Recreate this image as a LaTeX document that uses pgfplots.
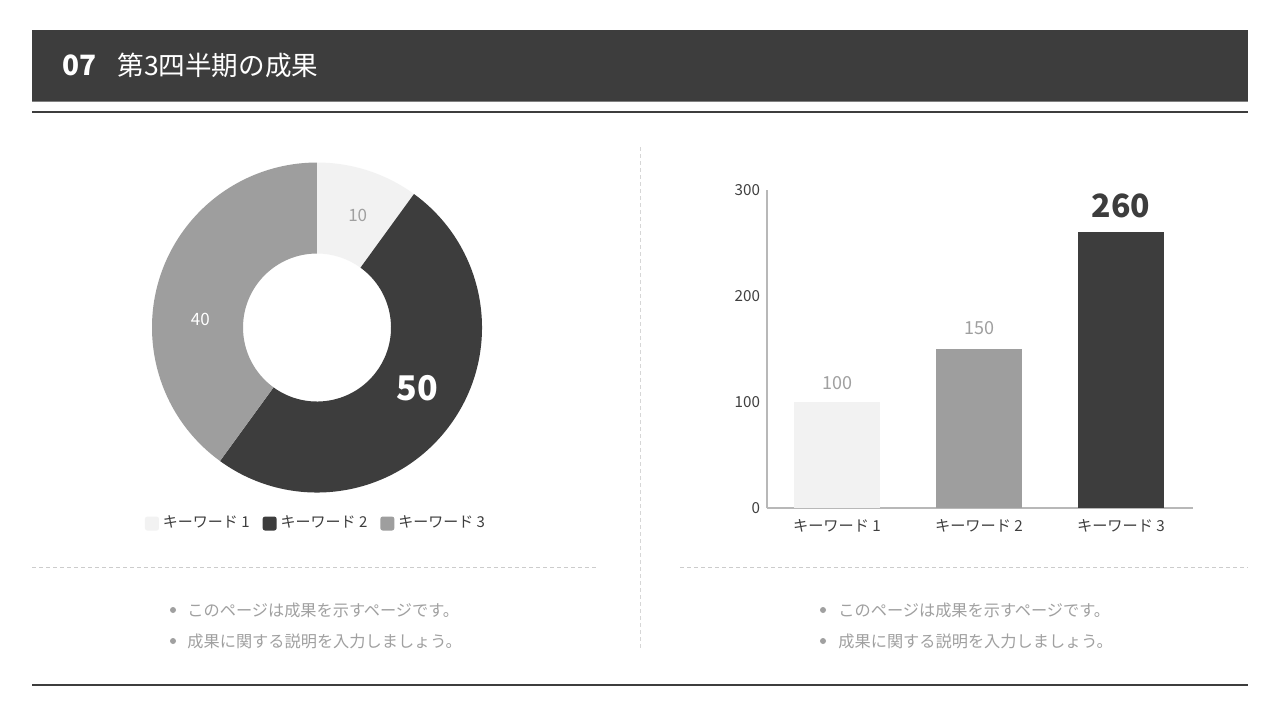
\documentclass[border=0pt]{standalone}
\usepackage{fontspec}
\setmainfont{Noto Sans CJK JP}
\usepackage{pgfplots}
\pgfplotsset{compat=1.18}
\usepackage{pgfplotstable}

\definecolor{dark}{HTML}{3D3D3D}
\definecolor{mid}{HTML}{9E9E9E}
\definecolor{light}{HTML}{F2F2F2}
\definecolor{txtgray}{HTML}{A0A0A0}
\definecolor{rulegray}{HTML}{CCCCCC}
\definecolor{axisgray}{HTML}{B8B8B8}
\definecolor{ticktext}{HTML}{404040}

% donut values (keyword 1..3)
\pgfplotstableread{
key value
1 10
2 50
3 40
}\donutdata

\begin{document}
% 1 unit = 1 px of the 1280x720 slide, y running downwards
\begin{tikzpicture}[x=0.5pt, y=-0.5pt]
% angles of the donut slices, clockwise from the top
\pgfplotstablegetelem{0}{value}\of\donutdata \let\vA\pgfplotsretval
\pgfplotstablegetelem{1}{value}\of\donutdata \let\vB\pgfplotsretval
\pgfplotstablegetelem{2}{value}\of\donutdata \let\vC\pgfplotsretval
\pgfmathsetmacro\tot{\vA+\vB+\vC}
\pgfmathsetmacro\aA{90}
\pgfmathsetmacro\aB{\aA-360*(\vA/\tot)}
\pgfmathsetmacro\aC{\aB-360*(\vB/\tot)}
\pgfmathsetmacro\aD{\aC-360*(\vC/\tot)}

% page and header
\fill[white] (0,0) rectangle (1280,720);
\fill[dark] (32,30) rectangle (1248,101);
\draw[gray, line width=0.5pt] (32,101.5) -- (1248,101.5);
\draw[dark, line width=1pt] (32,111.5) -- (1248,111.5);
\draw[dark, line width=1pt] (32,685) -- (1248,685);
\node[anchor=base west, inner sep=0, text=white, font=\fontsize{14}{16}\selectfont\bfseries] at (62,75) {07};
\node[anchor=base west, inner sep=0, text=white, font=\fontsize{13.3}{16}\selectfont] at (117,75) {第3四半期の成果};

% separators
\draw[rulegray!80, line width=0.5pt, dash pattern=on 2pt off 1.5pt] (640,147) -- (640,650);
\draw[rulegray, line width=0.5pt, dash pattern=on 2pt off 1.5pt] (32,567) -- (598,567);
\draw[rulegray, line width=0.5pt, dash pattern=on 2pt off 1.5pt] (680,567) -- (1248,567);

% donut chart, centre at px (317,327.5)
\begin{axis}[
    at={(158.5pt,-163.75pt)}, anchor=center,
    scale only axis, width=165pt, height=165pt,
    xmin=-1, xmax=1, ymin=-1, ymax=1,
    hide axis, clip=false,
    legend columns=3,
    legend style={at={(0.5,-0.094)}, anchor=center, draw=none, fill=none,
        font=\fontsize{7.5}{9}\selectfont, text=dark,
        /tikz/every even column/.append style={column sep=4.5pt}},
    legend image code/.code={\fill[#1, rounded corners=1.2pt] (0pt,-3.5pt) rectangle (7pt,3.5pt);},
]
\addlegendimage{fill=light, draw=none}
\addlegendentry{キーワード 1}
\addlegendimage{fill=dark, draw=none}
\addlegendentry{キーワード 2}
\addlegendimage{fill=mid, draw=none}
\addlegendentry{キーワード 3}
\begin{scope}[shift={(axis cs:0,0)}]
\fill[light] (\aA:82.5pt) arc[start angle=\aA, end angle=\aB, radius=82.5pt] -- (\aB:37pt) arc[start angle=\aB, end angle=\aA, radius=37pt] -- cycle;
\fill[dark] (\aB:82.5pt) arc[start angle=\aB, end angle=\aC, radius=82.5pt] -- (\aC:37pt) arc[start angle=\aC, end angle=\aB, radius=37pt] -- cycle;
\fill[mid] (\aC:82.5pt) arc[start angle=\aC, end angle=\aD, radius=82.5pt] -- (\aD:37pt) arc[start angle=\aD, end angle=\aC, radius=37pt] -- cycle;
\node[text=txtgray, font=\fontsize{8.5}{10}\selectfont] at (70:59.5pt) {\vA};
\node[text=white, font=\fontsize{17}{20}\selectfont\bfseries] at (-31:58.5pt) {\vB};
\node[text=white, font=\fontsize{8.5}{10}\selectfont] at (176:58.5pt) {\vC};
\end{scope}
\end{axis}

% bar chart, origin at px (767,508)
\begin{axis}[
    at={(383.5pt,-254pt)}, anchor=south west,
    scale only axis, width=213pt, height=159pt,
    xmin=-0.493, xmax=2.507, ymin=0, ymax=300,
    axis x line*=bottom, axis y line*=left,
    axis line style={-, draw=axisgray, line width=0.9pt},
    xtick={0,1,2},
    xticklabels={キーワード 1, キーワード 2, キーワード 3},
    ytick={0,100,200,300},
    major tick length=0pt,
    tick label style={font=\fontsize{7.6}{9}\selectfont, text=ticktext},
    xticklabel style={yshift=-2pt},
    /pgf/number format/assume math mode=true,
    clip=false,
]
\addplot[ybar, bar shift=0pt, bar width=43pt, fill=light, draw=none,
    nodes near coords, nodes near coords style={font=\fontsize{9}{10}\selectfont, text=txtgray, anchor=south, yshift=2.5pt}]
    coordinates {(0,100)};
\addplot[ybar, bar shift=0pt, bar width=43pt, fill=mid, draw=none,
    nodes near coords, nodes near coords style={font=\fontsize{9}{10}\selectfont, text=txtgray, anchor=south, yshift=3.5pt}]
    coordinates {(1,150)};
\addplot[ybar, bar shift=0pt, bar width=43pt, fill=dark, draw=none,
    nodes near coords, nodes near coords style={font=\fontsize{16}{18}\selectfont\bfseries, text=dark, anchor=south, yshift=3.5pt}]
    coordinates {(2,260)};
\end{axis}

% notes
\foreach \xb/\xt in {173/187, 823/838} {
  \fill[txtgray] (\xb,610) circle[radius=1.5pt];
  \fill[txtgray] (\xb,641) circle[radius=1.5pt];
  \node[anchor=west, inner sep=0, text=txtgray, font=\fontsize{8.1}{9}\selectfont] at (\xt,610) {このページは成果を示すページです。};
  \node[anchor=west, inner sep=0, text=txtgray, font=\fontsize{8.1}{9}\selectfont] at (\xt,641) {成果に関する説明を入力しましょう。};
}
\end{tikzpicture}
\end{document}
